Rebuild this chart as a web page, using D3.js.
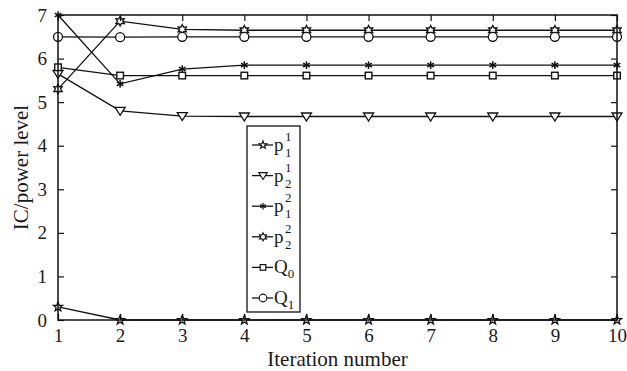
<!DOCTYPE html>
<html>
<head>
<meta charset="utf-8">
<script src="https://cdn.jsdelivr.net/npm/d3@7"></script>
<style>
  body { margin: 0; background: #fff; }
  svg { display: block; }
  svg text { font-family: "Liberation Serif", "Times New Roman", Tinos, serif; fill: #1a1a1a; }
</style>
</head>
<body>
<div id="chart"></div>
<script>
// iteration numbers
var iterations = [1, 2, 3, 4, 5, 6, 7, 8, 9, 10];
var yTicks = [0, 1, 2, 3, 4, 5, 6, 7];

// series values
var p11 = [0.3, 0, 0, 0, 0, 0, 0, 0, 0, 0];
var p21 = [5.65, 4.8, 4.68, 4.67, 4.67, 4.67, 4.67, 4.67, 4.67, 4.67];
var p12 = [7.0, 5.42, 5.76, 5.85, 5.85, 5.85, 5.85, 5.85, 5.85, 5.85];
var p22 = [5.3, 6.86, 6.67, 6.65, 6.65, 6.65, 6.65, 6.65, 6.65, 6.65];
var q0 = [5.8, 5.61, 5.61, 5.61, 5.61, 5.61, 5.61, 5.61, 5.61, 5.61];
var q1 = [6.5, 6.49, 6.5, 6.5, 6.5, 6.5, 6.5, 6.5, 6.5, 6.5];

// legend labels: base letter, superscript, subscript
var seriesList = [
    { sym: "pent", values: p11, label: ["p", "1", "1"] },
    { sym: "tri", values: p21, label: ["p", "1", "2"] },
    { sym: "ast", values: p12, label: ["p", "2", "1"] },
    { sym: "hex", values: p22, label: ["p", "2", "2"] },
    { sym: "sq", values: q0, label: ["Q", null, "0"] },
    { sym: "circ", values: q1, label: ["Q", null, "1"] }
];

var width = 627, height = 371;
var margin = { top: 15, right: 10, bottom: 51, left: 58 };

var svg = d3.select("#chart").append("svg")
    .attr("width", width)
    .attr("height", height);

var x = d3.scaleLinear().domain([1, 10]).range([margin.left, width - margin.right]);
var y = d3.scaleLinear().domain([0, 7]).range([height - margin.bottom, margin.top]);

// star path builder
function starPath(points, outer, inner) {
    var pts = [];
    for (var i = 0; i < points * 2; i++) {
        var r = i % 2 === 0 ? outer : inner;
        var a = -Math.PI / 2 + i * Math.PI / points;
        pts.push([r * Math.cos(a), r * Math.sin(a)]);
    }
    return "M" + pts.map(p => p[0].toFixed(2) + "," + p[1].toFixed(2)).join("L") + "Z";
}

function drawMarker(g, sym) {
    if (sym === "pent") {
        g.append("path").attr("d", starPath(5, 4.8, 2.0)).attr("fill", "#fff").attr("stroke", "#111").attr("stroke-width", 1.3);
    } else if (sym === "hex") {
        g.append("path").attr("d", starPath(6, 4.8, 2.6)).attr("fill", "#fff").attr("stroke", "#111").attr("stroke-width", 1.3);
    } else if (sym === "tri") {
        g.append("path").attr("d", "M-5,-3.5L5,-3.5L0,4.5Z").attr("fill", "#fff").attr("stroke", "#111").attr("stroke-width", 1.3);
    } else if (sym === "sq") {
        g.append("rect").attr("x", -3.3).attr("y", -3.3).attr("width", 6.6).attr("height", 6.6)
            .attr("fill", "#fff").attr("stroke", "#111").attr("stroke-width", 1.4);
    } else if (sym === "circ") {
        g.append("circle").attr("r", 4.5).attr("fill", "#fff").attr("stroke", "#111").attr("stroke-width", 1.3);
    } else if (sym === "ast") {
        for (var k = 0; k < 3; k++) {
            var a = Math.PI / 2 + k * Math.PI / 3;
            g.append("line")
                .attr("x1", -3.8 * Math.cos(a)).attr("y1", -3.8 * Math.sin(a))
                .attr("x2", 3.8 * Math.cos(a)).attr("y2", 3.8 * Math.sin(a))
                .attr("stroke", "#111").attr("stroke-width", 1.5);
        }
    }
}

var line = d3.line()
    .x((d, i) => x(iterations[i]))
    .y(d => y(d));

// series lines
seriesList.forEach(function (s) {
    svg.append("path")
        .attr("d", line(s.values))
        .attr("fill", "none")
        .attr("stroke", "#111")
        .attr("stroke-width", 1.3);
});

// markers
seriesList.forEach(function (s) {
    s.values.forEach(function (v, i) {
        var g = svg.append("g").attr("transform", "translate(" + x(iterations[i]) + "," + y(v) + ")");
        drawMarker(g, s.sym);
    });
});

// axes: inward ticks on all four sides
var tickLen = 6;
svg.append("g")
    .attr("transform", "translate(0," + y(0) + ")")
    .call(d3.axisBottom(x).tickValues(iterations).tickSize(-tickLen).tickPadding(9).tickFormat(d3.format("d")))
    .call(g => g.select(".domain").remove());
svg.append("g")
    .attr("transform", "translate(0," + y(7) + ")")
    .call(d3.axisTop(x).tickValues(iterations).tickSize(-tickLen).tickFormat(""))
    .call(g => g.select(".domain").remove());
svg.append("g")
    .attr("transform", "translate(" + x(1) + ",0)")
    .call(d3.axisLeft(y).tickValues(yTicks).tickSize(-tickLen).tickPadding(11).tickFormat(d3.format("d")))
    .call(g => g.select(".domain").remove());
svg.append("g")
    .attr("transform", "translate(" + x(10) + ",0)")
    .call(d3.axisRight(y).tickValues(yTicks).tickSize(-tickLen).tickFormat(""))
    .call(g => g.select(".domain").remove());

svg.selectAll(".tick line").attr("stroke", "#111").attr("stroke-width", 1.2);
svg.selectAll("g[font-family]").attr("font-family", null).attr("font-size", null);
svg.selectAll(".tick text")
    .attr("fill", "#1a1a1a")
    .style("font-size", "19px");

// frame
svg.append("rect")
    .attr("x", x(1)).attr("y", y(7))
    .attr("width", x(10) - x(1)).attr("height", y(0) - y(7))
    .attr("fill", "none").attr("stroke", "#111").attr("stroke-width", 1.5);

// axis titles
svg.append("text")
    .attr("x", (x(1) + x(10)) / 2).attr("y", 366)
    .attr("text-anchor", "middle")
    .style("font-size", "21px")
    .text("Iteration number");

svg.append("text")
    .attr("transform", "translate(28," + (y(0) + y(7)) / 2 + ") rotate(-90)")
    .attr("text-anchor", "middle")
    .style("font-size", "21px")
    .text("IC/power level");

// legend
var legend = svg.append("g").attr("class", "legend");
legend.append("rect")
    .attr("x", 247).attr("y", 126).attr("width", 53).attr("height", 186)
    .attr("fill", "#fff").attr("stroke", "#111").attr("stroke-width", 1.3);

var rowY = d3.scalePoint().domain(d3.range(seriesList.length)).range([145, 298]);

seriesList.forEach(function (s, i) {
    var cy = rowY(i);
    var row = legend.append("g");
    row.append("line").attr("x1", 252).attr("x2", 273).attr("y1", cy).attr("y2", cy)
        .attr("stroke", "#111").attr("stroke-width", 1.3);
    var mk = row.append("g").attr("transform", "translate(263," + cy + ") scale(0.85)");
    drawMarker(mk, s.sym);
    var t = row.append("text").attr("x", 274).attr("y", cy + 6)
        .style("font-size", "19px");
    t.append("tspan").text(s.label[0]);
    if (s.label[1]) {
        t.append("tspan").attr("x", 285).attr("y", cy - 4).style("font-size", "13px").text(s.label[1]);
        t.append("tspan").attr("x", 285).attr("y", cy + 12).style("font-size", "13px").text(s.label[2]);
    } else {
        t.append("tspan").attr("dy", 5).style("font-size", "13px").text(s.label[2]);
    }
});
</script>
</body>
</html>
